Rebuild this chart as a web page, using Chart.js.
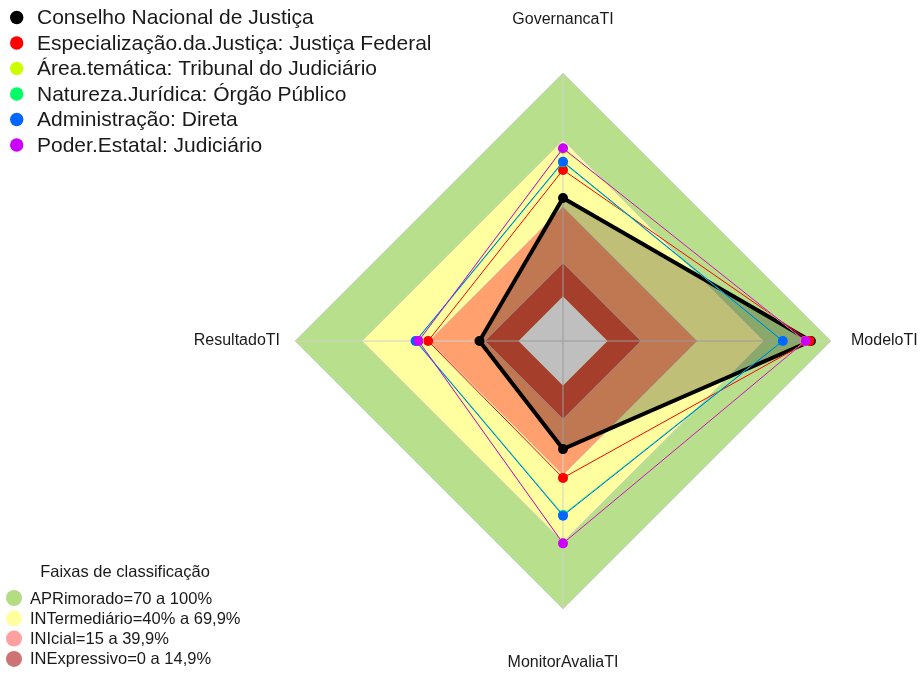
<!DOCTYPE html>
<html>
<head>
<meta charset="utf-8">
<script src="https://cdn.jsdelivr.net/npm/chart.js@4.4.0/dist/chart.umd.min.js"></script>
<style>
  body { margin: 0; background: #fff; }
</style>
</head>
<body>
<canvas id="radar" width="923" height="675"></canvas>
<script>
// eixos do radar
const eixos = ['GovernancaTI', 'ModeloTI', 'MonitorAvaliaTI', 'ResultadoTI'];

// series
const conselhoNacional = [44, 91, 28.4, 17.4];
const especializacao = [56.6, 90.4, 41.3, 40.4];
const areaTematica = [66, 88.4, 70.4, 44.5];
const naturezaJuridica = [60, 78.2, 57.8, 45.8];
const administracao = [60.3, 78.4, 58.2, 46];
const poderEstatal = [66.3, 88.6, 70.6, 44.7];

const nomesSeries = [
    'Conselho Nacional de Justiça',
    'Especialização.da.Justiça: Justiça Federal',
    'Área.temática: Tribunal do Judiciário',
    'Natureza.Jurídica: Órgão Público',
    'Administração: Direta',
    'Poder.Estatal: Judiciário'
];
const coresSeries = ['#000000', '#ff0000', '#ccff00', '#00ff66', '#0066ff', '#cc00ff'];

// faixas de classificacao (limite superior de cada faixa, preenchidas ate o zero)
const faixasLimite = [100, 70, 40, 15];
const faixasCor = ['#b8e08c', '#ffffa0', '#ffa06e', '#dc553b'];
const faixasNomes = [
    'APRimorado=70 a 100%',
    'INTermediário=40% a 69,9%',
    'INIcial=15 a 39,9%',
    'INExpressivo=0 a 14,9%'
];
const faixasCorLegenda = ['#b4dc82', '#ffffa0', '#ffa0a0', '#cd7373'];

const fonte = '"Liberation Sans", Arial, sans-serif';

// datasets das faixas (fundo)
const faixasDatasets = faixasLimite.map((lim, i) => ({
    label: faixasNomes[i],
    data: eixos.map(() => lim),
    backgroundColor: faixasCor[i],
    borderColor: 'rgba(205,205,205,0.7)',
    borderWidth: 1,
    pointRadius: 0,
    fill: 'origin',
    order: 20 - i,
    drawAxes: i === faixasLimite.length - 1
}));

const valores = [conselhoNacional, especializacao, areaTematica, naturezaJuridica, administracao, poderEstatal];
const seriesDatasets = valores.map((v, i) => ({
    label: nomesSeries[i],
    data: v,
    borderColor: coresSeries[i],
    backgroundColor: i === 0 ? 'rgba(0,0,0,0.25)' : coresSeries[i],
    borderWidth: i === 0 ? 4 : 1,
    fill: i === 0 ? 'start' : false,
    pointRadius: 5,
    pointBorderWidth: 0,
    pointBackgroundColor: coresSeries[i],
    order: 6 - i
}));

// offsets dos rotulos dos eixos e alinhamento
const rotuloOffset = [53, 20, 54, 15];
const rotuloAlign = ['center', 'left', 'center', 'right'];

const extras = {
    id: 'extras',
    afterDatasetDraw(chart, args) {
        if (!chart.data.datasets[args.index].drawAxes) return;
        const r = chart.scales.r;
        const ctx = chart.ctx;
        ctx.save();
        ctx.strokeStyle = '#cfcfcf';
        ctx.lineWidth = 1;
        eixos.forEach((_, i) => {
            const p = r.getPointPosition(i, r.drawingArea);
            ctx.beginPath();
            ctx.moveTo(r.xCenter, r.yCenter);
            ctx.lineTo(p.x, p.y);
            ctx.stroke();
        });
        ctx.restore();
    },
    afterDraw(chart) {
        const r = chart.scales.r;
        const ctx = chart.ctx;
        ctx.save();
        ctx.textBaseline = 'middle';

        // rotulos dos eixos
        ctx.font = '16px ' + fonte;
        ctx.fillStyle = '#1a1a1a';
        eixos.forEach((nome, i) => {
            const p = r.getPointPosition(i, r.drawingArea + rotuloOffset[i]);
            ctx.textAlign = rotuloAlign[i];
            ctx.fillText(nome, p.x, p.y);
        });

        // legenda das series
        ctx.font = '21px ' + fonte;
        ctx.textAlign = 'left';
        nomesSeries.forEach((nome, i) => {
            const y = 17.5 + i * 25.5;
            ctx.fillStyle = coresSeries[i];
            ctx.beginPath();
            ctx.arc(16.7, y, 6.7, 0, Math.PI * 2);
            ctx.fill();
            ctx.fillStyle = '#1a1a1a';
            ctx.fillText(nome, 37, y + 1);
        });

        // legenda das faixas
        ctx.font = '16.5px ' + fonte;
        ctx.textAlign = 'center';
        ctx.fillStyle = '#1a1a1a';
        ctx.fillText('Faixas de classificação', 125, 572);
        ctx.textAlign = 'left';
        faixasNomes.forEach((nome, i) => {
            const y = 598 + i * 20.3;
            ctx.fillStyle = faixasCorLegenda[i];
            ctx.beginPath();
            ctx.arc(14, y, 8, 0, Math.PI * 2);
            ctx.fill();
            ctx.fillStyle = '#1a1a1a';
            ctx.fillText(nome, 30, y + 1);
        });
        ctx.restore();
    }
};

const radar = new Chart(document.getElementById('radar'), {
    type: 'radar',
    data: {
        labels: eixos,
        datasets: faixasDatasets.concat(seriesDatasets)
    },
    options: {
        responsive: false,
        animation: false,
        layout: {
            padding: { left: 295, right: 92, top: 73, bottom: 66 }
        },
        elements: {
            line: { tension: 0, borderJoinStyle: 'miter' }
        },
        plugins: {
            legend: { display: false },
            tooltip: { enabled: false },
            filler: { propagate: false }
        },
        scales: {
            r: {
                min: -20,
                max: 100,
                ticks: { display: false },
                grid: { display: false },
                angleLines: { display: false },
                pointLabels: { display: false }
            }
        }
    },
    plugins: [extras]
});
</script>
</body>
</html>
